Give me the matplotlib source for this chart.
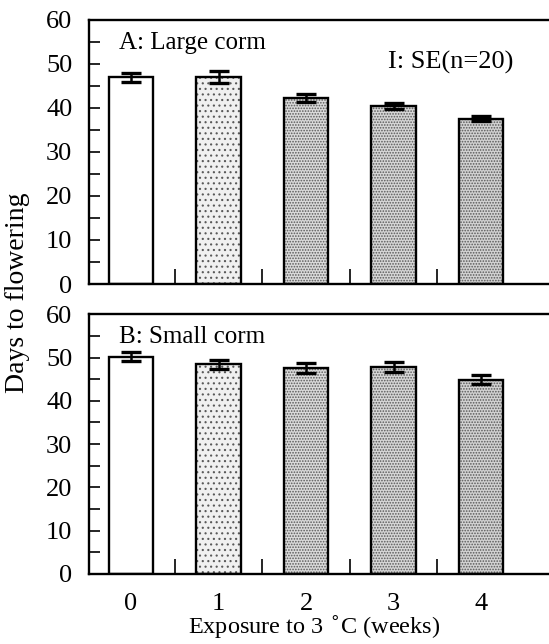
import matplotlib
matplotlib.use("Agg")
import matplotlib.pyplot as plt
from matplotlib.ticker import MultipleLocator, FixedLocator

plt.rcParams['font.family'] = ['Liberation Serif', 'DejaVu Serif']
plt.rcParams['hatch.linewidth'] = 0.8

weeks = [0, 1, 2, 3, 4]
week_labels = ['0', '1', '2', '3', '4']
large_mean = [47.0, 47.0, 42.3, 40.5, 37.6]
large_se = [1.0, 1.3, 0.9, 0.7, 0.5]
small_mean = [50.2, 48.4, 47.6, 47.8, 44.9]
small_se = [1.1, 1.1, 1.15, 1.15, 1.1]

faces = ['white', '#f0f0f0', '#dadada', '#d6d6d6', '#d2d2d2']
hatches = [None, '...', '......', '......', '......']

fig = plt.figure(figsize=(5.49, 6.44), dpi=100)
ax1 = fig.add_axes([0.162, 0.559, 0.85, 0.410])
ax2 = fig.add_axes([0.162, 0.109, 0.85, 0.403])

def draw(ax, means, ses, label):
    for i, (x, m, s) in enumerate(zip(weeks, means, ses)):
        b = ax.bar(x, m, width=0.51, color=faces[i], edgecolor='black',
                   linewidth=1.7, hatch=hatches[i], zorder=2)
        for p in b:
            p._hatch_color = (0.35, 0.35, 0.35, 1.0)
    ax.errorbar(weeks, means, yerr=ses, fmt='none', ecolor='black',
                elinewidth=1.8, capsize=7, capthick=2.4, zorder=3)
    ax.set_xlim(-0.48, 4.85)
    ax.set_ylim(0, 60)
    ax.spines['right'].set_visible(False)
    for sp in ['left', 'top', 'bottom']:
        ax.spines[sp].set_linewidth(1.7)
    ax.yaxis.set_major_locator(MultipleLocator(10))
    ax.yaxis.set_minor_locator(MultipleLocator(5))
    ax.tick_params(axis='y', which='both', direction='in', length=8,
                   width=1.2, labelsize=19, pad=12)
    ax.xaxis.set_major_locator(FixedLocator(weeks))
    ax.xaxis.set_minor_locator(FixedLocator([0.5, 1.5, 2.5, 3.5]))
    ax.tick_params(axis='x', which='major', length=0, labelsize=19, pad=14)
    ax.tick_params(axis='x', which='minor', direction='in', length=11, width=1.2)
    ax.text(0.065, 0.955, label, transform=ax.transAxes, fontsize=18,
            ha='left', va='top')

draw(ax1, large_mean, large_se, 'A: Large corm')
draw(ax2, small_mean, small_se, 'B: Small corm')
ax1.set_xticklabels([])
ax2.set_xticklabels(week_labels)
ax1.text(0.64, 0.84, 'I: SE(n=20)', transform=ax1.transAxes, fontsize=19,
         ha='left', va='center')
fig.text(0.572, 0.026, 'Exposure to 3 $^{\\circ}$C (weeks)', fontsize=17.5,
         ha='center', va='center')
fig.text(0.032, 0.545, 'Days to flowering', rotation=90, fontsize=20,
         ha='center', va='center')

fig.savefig('out.png', dpi=100)
